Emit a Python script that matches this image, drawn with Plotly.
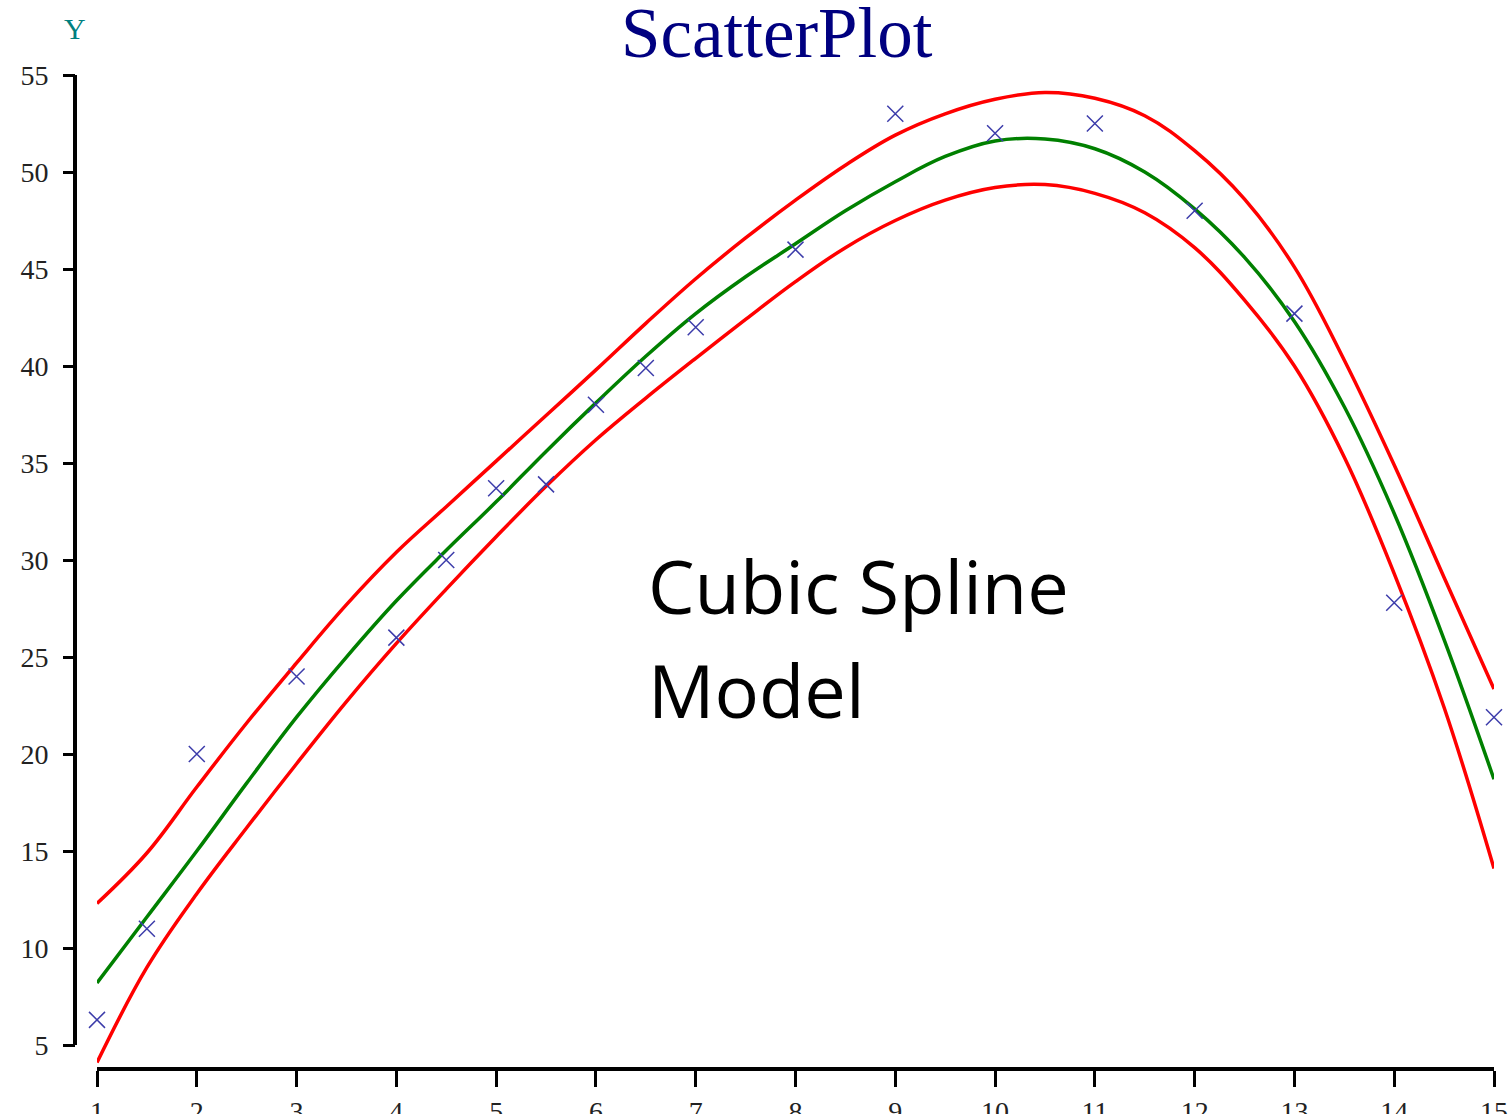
import plotly.graph_objects as go

# Observed points
pt_x = [1, 1.5, 2, 3, 4, 4.5, 5, 5.5, 6, 6.5, 7, 8, 9, 10, 11, 12, 13, 14, 15]
pt_y = [6.3, 11.0, 20.0, 24.0, 26.0, 30.0, 33.7, 33.9, 38.0, 39.9, 42.0, 46.0, 53.0, 52.0, 52.5, 48.0, 42.7, 27.8, 21.9]

# Fitted cubic spline model and band, read at half steps
curve_x = [1, 1.5, 2, 2.5, 3, 3.5, 4, 4.5, 5, 5.5, 6, 6.5, 7, 7.5, 8, 8.5, 9, 9.5,
           10, 10.5, 11, 11.5, 12, 12.5, 13, 13.5, 14, 14.5, 15]
fit_y = [8.2, 11.6, 15.0, 18.5, 21.9, 25.0, 27.9, 30.5, 33.0, 35.6, 38.1, 40.5, 42.7, 44.6,
         46.3, 48.0, 49.5, 50.8, 51.6, 51.7, 51.2, 50.0, 48.1, 45.6, 42.3, 37.9, 32.4, 25.9, 18.7]
upper_y = [12.3, 14.9, 18.3, 21.6, 24.7, 27.7, 30.4, 32.75, 35.1, 37.45, 39.8, 42.2, 44.5, 46.6,
           48.55, 50.35, 51.9, 53.0, 53.75, 54.1, 53.8, 52.9, 51.1, 48.6, 45.1, 40.3, 34.9, 29.1, 23.35]
lower_y = [4.1, 9.0, 12.8, 16.2, 19.5, 22.7, 25.7, 28.5, 31.2, 33.8, 36.2, 38.35, 40.4, 42.4,
           44.35, 46.1, 47.5, 48.55, 49.2, 49.35, 48.9, 47.9, 46.1, 43.4, 40.0, 35.3, 29.3, 22.4, 14.1]

x_ticks = list(range(1, 16))
y_ticks = [5, 10, 15, 20, 25, 30, 35, 40, 45, 50, 55]

serif = "Times New Roman, Liberation Serif, serif"
sans = "Open Sans, sans-serif"
mark_col = "#3c3caa"

fig = go.Figure()
for ys in (upper_y, lower_y):
    fig.add_trace(go.Scatter(x=curve_x, y=ys, mode="lines",
                             line=dict(color="#ff0000", width=3.5, shape="spline", smoothing=1.1),
                             hoverinfo="skip"))
fig.add_trace(go.Scatter(x=curve_x, y=fit_y, mode="lines",
                         line=dict(color="#008000", width=3.5, shape="spline", smoothing=1.1),
                         hoverinfo="skip"))
fig.add_trace(go.Scatter(x=pt_x, y=pt_y, mode="markers",
                         marker=dict(symbol="x-thin-open", size=16, color=mark_col,
                                     line=dict(color=mark_col, width=1.5)),
                         cliponaxis=False))

W, H = 1512, 1114
L, R, T, B = 75, 18, 75, 47
pw = W - L - R
ph = H - T - B

fig.update_layout(
    width=W, height=H,
    margin=dict(l=L, r=R, t=T, b=B, autoexpand=False),
    paper_bgcolor="white", plot_bgcolor="white",
    showlegend=False,
    xaxis=dict(domain=[(97 - L) / pw, 1], range=[1, 15], tickvals=x_ticks,
               showgrid=False, zeroline=False, showline=True, linecolor="black", linewidth=4,
               ticks="outside", ticklen=16, tickwidth=3, tickcolor="black",
               tickfont=dict(family=serif, size=28, color="#222"), automargin=False),
    yaxis=dict(domain=[0, 1], range=[3.87, 55], tickvals=y_ticks,
               anchor="free", position=0,
               showgrid=False, zeroline=False, showline=False,
               ticks="outside", ticklen=12, tickwidth=3, tickcolor="black",
               ticklabelstandoff=9,
               tickfont=dict(family=serif, size=28, color="#222"), automargin=False),
    shapes=[dict(type="line", xref="paper", yref="y", x0=0, x1=0, y0=5, y1=55,
                 line=dict(color="black", width=4))],
    annotations=[
        dict(text="ScatterPlot", xref="paper", yref="paper", x=(777 - L) / pw, y=(1067 - 33) / ph,
             xanchor="center", yanchor="middle", showarrow=False,
             font=dict(family=serif, size=71, color="#000080")),
        dict(text="Y", xref="paper", yref="paper", x=0, y=(1067 - 29) / ph,
             xanchor="center", yanchor="middle", showarrow=False,
             font=dict(family=serif, size=30, color="#008080")),
        dict(text="Cubic Spline", xref="paper", yref="paper", x=(646 - L) / pw, y=(1067 - 585) / ph,
             xanchor="left", yanchor="middle", showarrow=False,
             font=dict(family=sans, size=74, color="black")),
        dict(text="Model", xref="paper", yref="paper", x=(646 - L) / pw, y=(1067 - 690) / ph,
             xanchor="left", yanchor="middle", showarrow=False,
             font=dict(family=sans, size=74, color="black")),
    ],
)

fig.write_html("out.html")
